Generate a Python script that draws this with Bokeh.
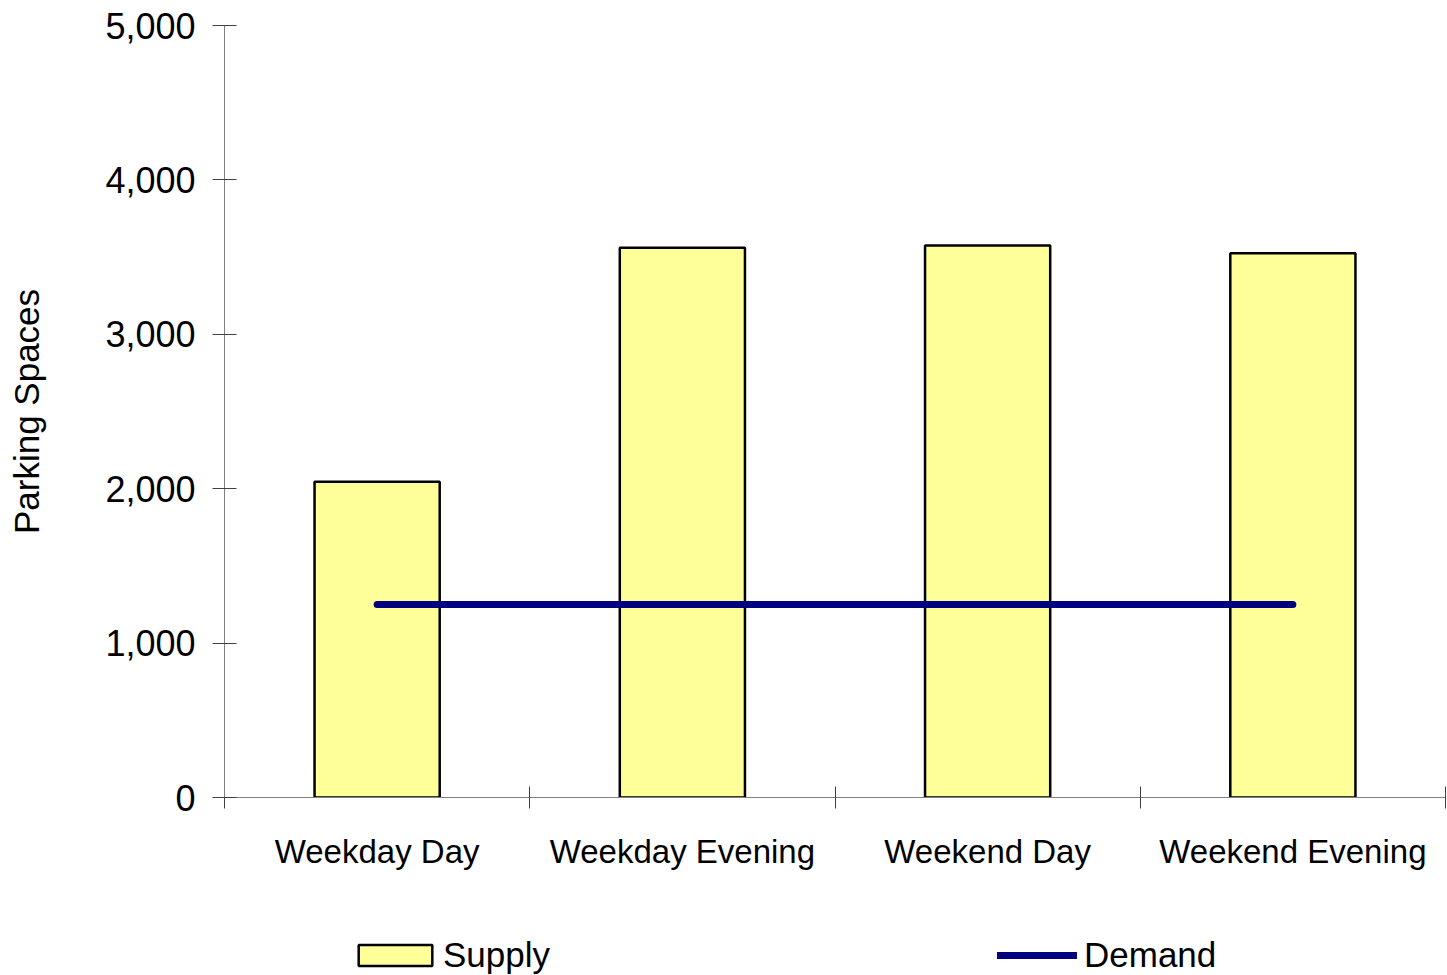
from bokeh.plotting import figure
from bokeh.layouts import column
from bokeh.models import (FixedTicker, NumeralTickFormatter, Legend, LegendItem,
                          ColumnDataSource, Range1d)
from bokeh.embed import file_html
from bokeh.resources import INLINE

# ---- data ----
categories = ["Weekday Day", "Weekday Evening", "Weekend Day", "Weekend Evening"]
supply = [2045, 3560, 3575, 3525]
demand = [1250, 1250, 1250, 1250]
y_ticks = [0, 1000, 2000, 3000, 4000, 5000]

xs = [i + 0.5 for i in range(len(categories))]
src = ColumnDataSource(dict(x=xs, supply=supply, demand=demand, cat=categories))

FONT = "Liberation Sans"
BAR_FILL = "#FFFF99"
LINE_COL = "#000080"

p = figure(width=1447, height=895, output_backend="svg", toolbar_location=None,
           x_range=Range1d(0, len(categories)), y_range=Range1d(0, 5000),
           min_border_left=224, min_border_right=2, min_border_top=25,
           min_border_bottom=98)
p.outline_line_color = None
p.background_fill_color = "white"
p.border_fill_color = "white"
p.xgrid.visible = False
p.ygrid.visible = False

p.vbar(x="x", top="supply", width=0.41, bottom=0, source=src,
       fill_color=BAR_FILL, line_color="black", line_width=2.5)
p.line(x="x", y="demand", source=src, line_color=LINE_COL,
       line_width=7, line_cap="round")

# y axis
ya = p.yaxis[0]
ya.ticker = FixedTicker(ticks=y_ticks)
ya.formatter = NumeralTickFormatter(format="0,0")
ya.axis_label = "Parking Spaces"
ya.axis_label_text_font = FONT
ya.axis_label_text_font_style = "normal"
ya.axis_label_text_font_size = "35px"
ya.axis_label_text_color = "black"
ya.axis_label_standoff = 56
ya.major_label_text_font = FONT
ya.major_label_text_font_size = "36px"
ya.major_label_text_color = "black"
ya.major_label_standoff = 17
ya.major_tick_in = 12
ya.major_tick_out = 12
ya.minor_tick_line_color = None
ya.axis_line_color = "#808080"
ya.major_tick_line_color = "#404040"

# x axis: labels at centres, tick marks at category boundaries
xa = p.xaxis[0]
xa.ticker = FixedTicker(ticks=xs, minor_ticks=list(range(len(categories) + 1)))
xa.major_label_overrides = {x: c for x, c in zip(xs, categories)}
xa.major_tick_line_color = None
xa.major_tick_in = 0
xa.major_tick_out = 11
xa.minor_tick_in = 11
xa.minor_tick_out = 11
xa.minor_tick_line_color = "#404040"
xa.axis_line_color = "#808080"
xa.major_label_text_font = FONT
xa.major_label_text_font_size = "33px"
xa.major_label_text_color = "black"
xa.major_label_standoff = 24

# ---- legend strip below the chart ----
# hidden proxy renderers (same data) supply the legend swatches
lg = figure(width=1447, height=80, output_backend="svg", toolbar_location=None,
            x_axis_location=None, y_axis_location=None,
            x_range=Range1d(100, 101), y_range=Range1d(100000, 100001),
            min_border_left=0, min_border_right=0, min_border_top=0,
            min_border_bottom=0)
lg.outline_line_color = None
lg.xgrid.visible = False
lg.ygrid.visible = False
r_bar = lg.vbar(x="x", top="supply", width=0.41, bottom=0, source=src,
                fill_color=BAR_FILL, line_color="black", line_width=2.5,
                visible=False)
r_line = lg.line(x="x", y="demand", source=src, line_color=LINE_COL,
                 line_width=7, line_cap="round", visible=False)

common = dict(orientation="horizontal", glyph_height=26, label_height=26,
              padding=0, margin=0, border_line_color=None,
              background_fill_alpha=0, label_text_font=FONT,
              label_text_font_size="35px", label_text_color="black")
leg1 = Legend(items=[LegendItem(label="Supply", renderers=[r_bar])],
              location=(125, 0), glyph_width=92, label_standoff=2, **common)
leg2 = Legend(items=[LegendItem(label="Demand", renderers=[r_line])],
              location=(773, 0), glyph_width=80, label_standoff=7, **common)
lg.add_layout(leg1)
lg.add_layout(leg2)

layout = column(p, lg, spacing=0)
open("out.html", "w").write(file_html(layout, INLINE))
